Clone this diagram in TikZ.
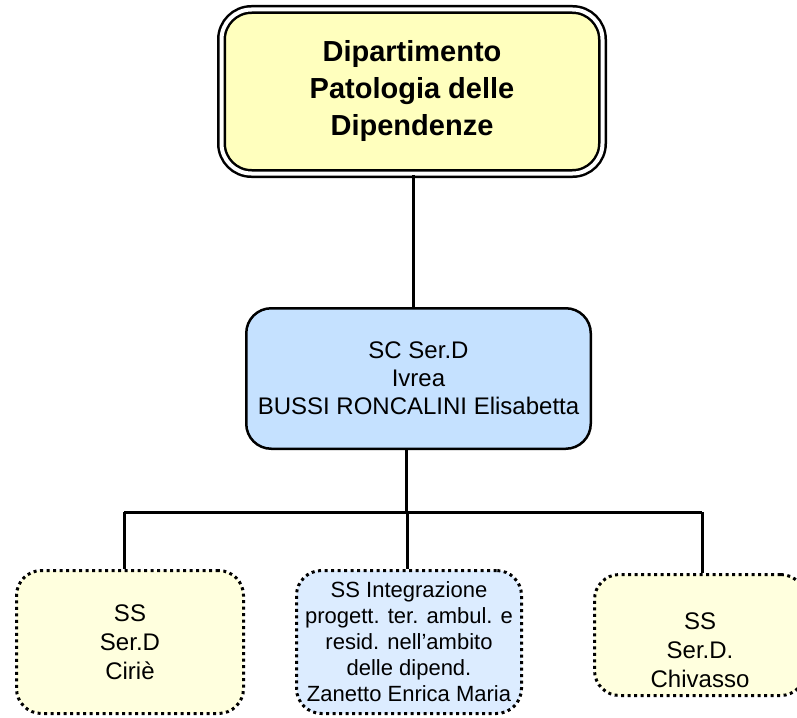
\documentclass[tikz,border=0pt]{standalone}
\usepackage{fontspec}
\setmainfont{Liberation Sans}
\definecolor{deptyellow}{RGB}{255,255,190}
\definecolor{scblue}{RGB}{197,225,255}
\definecolor{ssyellow}{RGB}{255,255,222}
\definecolor{ssblue}{RGB}{220,236,255}
\begin{document}
\begin{tikzpicture}[x=1pt, y=-1pt,
  unitbox/.style={rounded corners=25pt, align=center, inner sep=0pt},
  ssbox/.style={unitbox, draw, line width=3pt, dash pattern=on 3pt off 3.5pt},
  wire/.style={line width=3pt}]
  \useasboundingbox (0,0) rectangle (797,717);
  % department
  \node[unitbox, rounded corners=30pt, fill=deptyellow, draw, line width=2.5pt,
        double=white, double distance=4pt, minimum width=381pt, minimum height=164pt,
        font=\fontsize{29}{37}\selectfont\bfseries] (dept) at (412,91.5)
        {Dipartimento\\Patologia delle\\Dipendenze};
  % SC
  \node[unitbox, fill=scblue, draw, line width=2.5pt, minimum width=344.5pt,
        minimum height=140.5pt, font=\fontsize{24}{28}\selectfont] (ivrea) at (418.5,378.5)
        {SC Ser.D\\Ivrea\\BUSSI RONCALINI Elisabetta};
  % SS
  \node[ssbox, fill=ssyellow, minimum width=227pt, minimum height=143pt,
        font=\fontsize{24}{29}\selectfont] (cirie) at (130,642) {SS\\Ser.D\\Ciri\`e};
  \node[ssbox, fill=ssblue, minimum width=225pt, minimum height=143pt,
        font=\fontsize{22}{26}\selectfont] (integr) at (409,642)
        {SS Integrazione\\progett. ter. ambul. e\\resid. nell’ambito\\delle dipend.\\Zanetto Enrica Maria};
  \node[ssbox, fill=ssyellow, minimum width=211pt, minimum height=121pt] (chivasso) at (700,635) {};
  \node[align=center, font=\fontsize{24}{29}\selectfont] (chivtext) at (700,650) {SS\\Ser.D.\\Chivasso};
  % connectors
  \coordinate (stemA) at (413,0);
  \coordinate (stemB) at (406,0);
  \coordinate (busL) at (124,512);
  \coordinate (busM) at (407,512);
  \coordinate (busR) at (702,512);
  \draw[wire] (stemA |- dept.south) -- (stemA |- ivrea.north);
  \draw[wire] (stemB |- ivrea.south) -- (stemB |- busL);
  \draw[wire] (busL) -- (busR);
  \draw[wire] (busL) -- (busL |- cirie.north);
  \draw[wire] (busM) -- (busM |- integr.north);
  \draw[wire] (busR) -- (busR |- chivasso.north);
\end{tikzpicture}
\end{document}
